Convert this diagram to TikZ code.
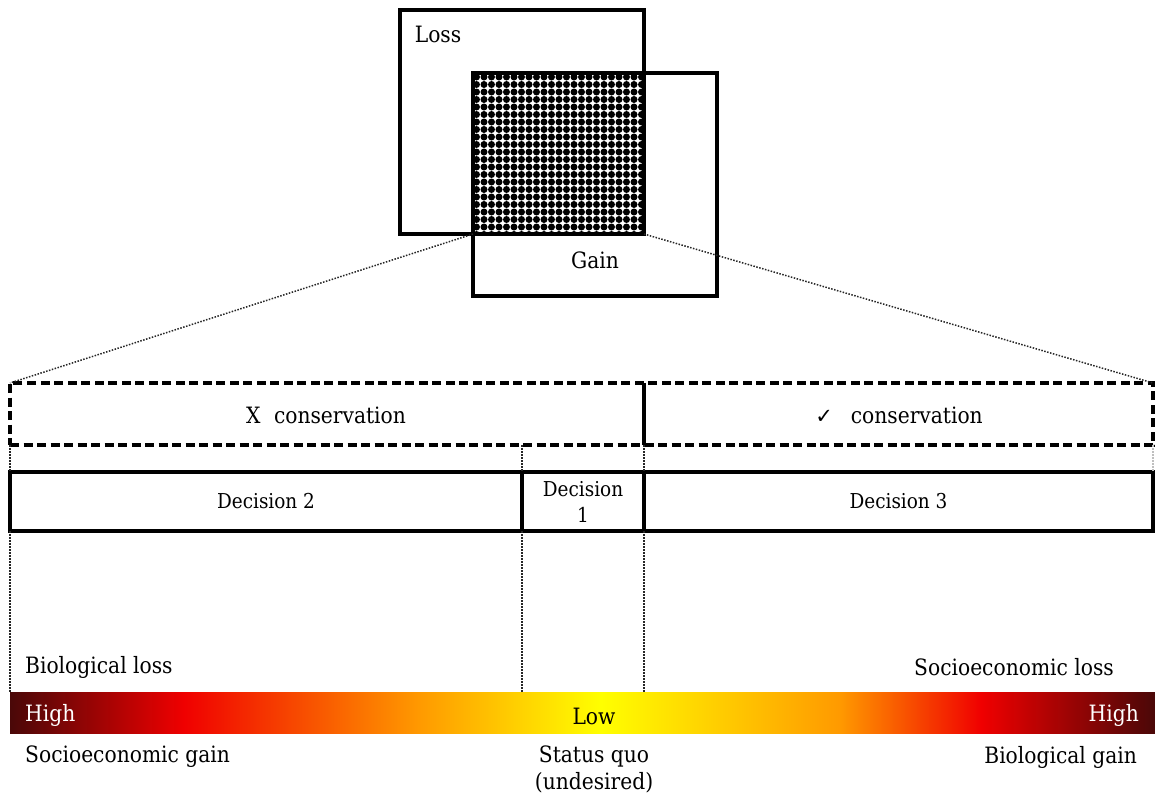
\documentclass[tikz,border=0pt]{standalone}
\usepackage{fontspec}
\setmainfont{DejaVu Serif Condensed}
\newfontfamily\symfont{DejaVu Sans}
\definecolor{heatdark}{HTML}{4A0808}
\definecolor{heatred}{HTML}{F00000}
\definecolor{heatorange}{HTML}{FF9A00}
\definecolor{heatyellow}{HTML}{FFFF00}
\pgfdeclarehorizontalshading{heat}{100bp}{color(0bp)=(heatdark); color(25bp)=(heatdark);
  color(32.6bp)=(heatred); color(42.9bp)=(heatorange); color(50.8bp)=(heatyellow);
  color(61.2bp)=(heatorange); color(67.4bp)=(heatred); color(75bp)=(heatdark); color(100bp)=(heatdark)}
\begin{document}
\begin{tikzpicture}[x=1pt,y=-1pt,
  frame/.style={draw, line width=3.3pt, inner sep=0pt, outer sep=0pt},
  dashframe/.style={draw, line width=3.3pt, dash pattern=on 9pt off 4.5pt, inner sep=0pt, outer sep=0pt},
  guide/.style={line width=1.5pt, dash pattern=on 1.5pt off 1.5pt, black!85},
  txt/.style={font=\fontsize{22.5}{27}\selectfont, inner sep=0pt},
  dtxt/.style={font=\fontsize{20.5}{26}\selectfont, inner sep=0pt, align=center}]
\useasboundingbox (0,0) rectangle (1155,796);

% dotted overlap of the two boxes
\begin{scope}
  \clip (473,73) rectangle (644,234);
  \foreach \i in {0,...,22}
    \foreach \j in {0,...,21}
      \fill (476.5+7.5*\i, 77+7.5*\j) circle (3.5);
\end{scope}

% loss and gain boxes
\node[frame, minimum width=244, minimum height=224] (loss) at (522,122) {};
\node[frame, minimum width=244, minimum height=223] (gain) at (595,184.5) {};
\node[txt] (losslbl) at (438,34) {Loss};
\node[txt] (gainlbl) at (595,260) {Gain};

% conservation band
\node[dashframe, minimum width=1143, minimum height=62] (cons) at (581.5,414) {};
\coordinate (divtop) at (644,383);
\coordinate (divbot) at (644,445);
\draw[line width=3.3pt] (divtop) -- (divbot);
\node[txt] (xcons) at (326,415) {X\hspace{0.6em}conservation};
\node[txt] (okcons) at (899,415) {{\symfont\fontsize{21}{24}\selectfont ✓}\hspace{0.8em}conservation};

% projection lines
\draw[guide] (gain.west |- loss.south) -- (cons.north west);
\draw[guide] (loss.south east) -- (cons.north east);

% decision boxes
\node[frame, minimum width=512, minimum height=59] (d2) at (266,501.5) {};
\node[frame, minimum width=122, minimum height=59] (d1) at (583,501.5) {};
\node[frame, minimum width=509, minimum height=59] (d3) at (898.5,501.5) {};
\node[dtxt] (d2lbl) at (d2) {Decision 2};
\node[dtxt] (d1lbl) at (d1) {Decision\\1};
\node[dtxt] (d3lbl) at (d3) {Decision 3};

% gradient bar
\node[shading=heat, inner sep=0pt, outer sep=0pt, minimum width=1145, minimum height=41] (bar) at (582.5,712.5) {};

% vertical guides
\draw[guide] (cons.south west) -- (d2.north west);
\draw[guide] (d2.north east |- cons.south) -- (d2.north east);
\draw[guide] (divbot) -- (d3.north west);
\draw[guide, black!25] (cons.south east) -- (d3.north east);
\draw[guide] (d2.south west) -- (bar.north west);
\draw[guide] (d2.south east) -- (d2.south east |- bar.north);
\draw[guide] (d3.south west) -- (d3.south west |- bar.north);

% scale labels
\node[txt, anchor=west] (bioloss) at (25,667) {Biological loss};
\node[txt, anchor=east] (socloss) at (1114,667) {Socioeconomic loss};
\node[txt, anchor=west, text=white] (highl) at (25,715) {High};
\node[txt] (low) at (594,716) {Low};
\node[txt, anchor=east, text=white] (highr) at (1139,715) {High};
\node[txt, anchor=west] (socgain) at (25,757) {Socioeconomic gain};
\node[txt, align=center] (status) at (594,769) {Status quo\\(undesired)};
\node[txt, anchor=east] (biogain) at (1137,757) {Biological gain};
\end{tikzpicture}
\end{document}
